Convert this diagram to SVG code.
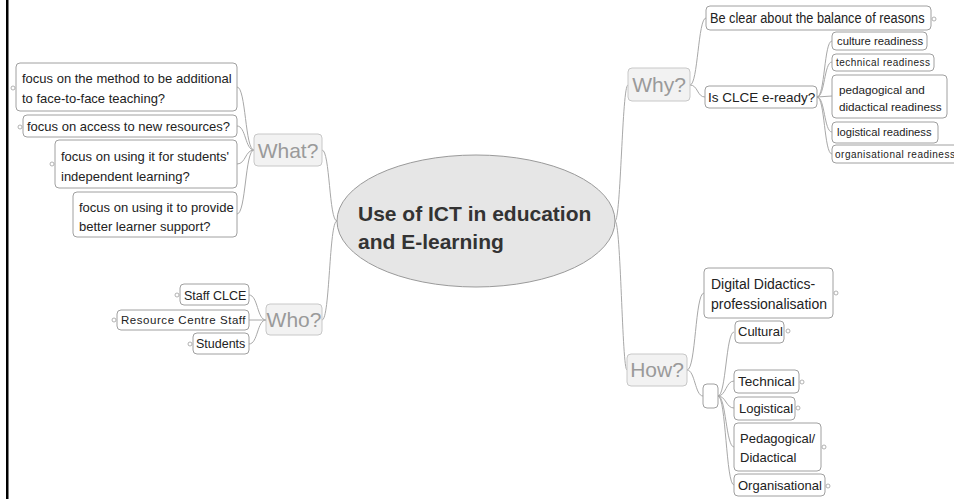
<svg xmlns="http://www.w3.org/2000/svg" width="954" height="499" viewBox="0 0 954 499">
  <style>
    .bg { fill: #ffffff; }
    .edge { fill: none; stroke: #a8a8a8; stroke-width: 1; }
    .topic { fill: #f2f2f2; stroke: #c8c8c8; stroke-width: 1; }
    .topic-text { font-family: "Liberation Sans", Arial, sans-serif; font-size: 21px; fill: #9a9a9a; text-anchor: middle; }
    .box { fill: #ffffff; stroke: #a0a0a0; stroke-width: 1; }
    .t { font-family: "Liberation Sans", Arial, sans-serif; font-size: 13px; fill: #222222; }
    .knob { fill: #ffffff; stroke: #a0a0a0; stroke-width: 0.8; }
    .central { fill: #e6e6e6; stroke: #9a9a9a; stroke-width: 1; }
    .central-text { font-family: "Liberation Sans", Arial, sans-serif; font-size: 21px; font-weight: bold; fill: #333333; }
  </style>

  <rect class="bg" x="0" y="0" width="954" height="499"/>
  <rect x="6" y="0" width="2.5" height="499" fill="#000000"/>

  <!-- connectors -->
  <g id="connectors">
    <!-- central topic to main branches -->
    <path class="edge" d="M337,221 C329,221 330,150 322,150"/>
    <path class="edge" d="M337,221 C329,221 330,320 322,320"/>
    <path class="edge" d="M615,221 C621,221 622,85 628,85"/>
    <path class="edge" d="M615,221 C621,221 622,370 627,370"/>
    <!-- What? -->
    <path class="edge" d="M254,150 C245,150 246,87 237,87"/>
    <path class="edge" d="M254,150 C245,150 246,126 237,126"/>
    <path class="edge" d="M254,150 C245,150 246,164 237,164"/>
    <path class="edge" d="M254,150 C245,150 246,214 237,214"/>
    <!-- Who? -->
    <path class="edge" d="M266,320 C257,320 258,295 249,295"/>
    <path class="edge" d="M266,320 L249,320"/>
    <path class="edge" d="M266,320 C257,320 258,344 249,344"/>
    <!-- Why? -->
    <path class="edge" d="M690,85 C698,85 698,18 706,18"/>
    <path class="edge" d="M690,85 C698,85 697,97 705,97"/>
    <!-- Is CLCE e-ready? -->
    <path class="edge" d="M817,97 C825,97 824,41 832,41"/>
    <path class="edge" d="M817,97 C825,97 824,62 832,62"/>
    <path class="edge" d="M817,97 L832,96"/>
    <path class="edge" d="M817,97 C825,97 824,132 832,132"/>
    <path class="edge" d="M817,97 C825,97 824,154 832,154"/>
    <!-- How? -->
    <path class="edge" d="M687,370 C696,370 695,293 704,293"/>
    <path class="edge" d="M687,370 C695,370 695,396 703,396"/>
    <!-- unnamed sub-topic to its children -->
    <path class="edge" d="M718,396 C726,396 726,332 734,332"/>
    <path class="edge" d="M718,396 C726,396 726,381 734,381"/>
    <path class="edge" d="M718,396 C726,396 726,408 734,408"/>
    <path class="edge" d="M718,396 C726,396 726,447 734,447"/>
    <path class="edge" d="M718,396 C726,396 726,485 734,485"/>
  </g>

  <!-- central topic -->
  <g id="central">
    <ellipse class="central" cx="476" cy="221" rx="139" ry="66"/>
    <text class="central-text" x="358" y="221">Use of ICT in education</text>
    <text class="central-text" x="358" y="249">and E-learning</text>
  </g>

  <!-- main branches -->
  <g id="what">
    <rect class="topic" x="254" y="134" width="68" height="32" rx="4"/>
    <text class="topic-text" x="288" y="158">What?</text>
  </g>
  <g id="who">
    <rect class="topic" x="266" y="304" width="56" height="31" rx="4"/>
    <text class="topic-text" x="294" y="327">Who?</text>
  </g>
  <g id="why">
    <rect class="topic" x="628" y="68" width="62" height="33" rx="4"/>
    <text class="topic-text" x="659" y="92">Why?</text>
  </g>
  <g id="how">
    <rect class="topic" x="627" y="354" width="60" height="32" rx="4"/>
    <text class="topic-text" x="657" y="377">How?</text>
  </g>

  <!-- What? children -->
  <g id="what-method">
    <rect class="box" x="16" y="63" width="221" height="48" rx="4"/>
    <circle class="knob" cx="13" cy="88" r="2"/>
    <text class="t" x="22" y="83">focus on the method to be additional</text>
    <text class="t" x="22" y="103">to face-to-face teaching?</text>
  </g>
  <g id="what-access">
    <rect class="box" x="23" y="115" width="214" height="22" rx="4"/>
    <circle class="knob" cx="20" cy="127" r="2"/>
    <text class="t" x="27" y="131">focus on access to new resources?</text>
  </g>
  <g id="what-independent">
    <rect class="box" x="55" y="140" width="182" height="48" rx="4"/>
    <circle class="knob" cx="52" cy="164" r="2"/>
    <text class="t" x="61" y="161">focus on using it for students'</text>
    <text class="t" x="61" y="181">independent learning?</text>
  </g>
  <g id="what-support">
    <rect class="box" x="73" y="192" width="164" height="45" rx="4"/>
    <text class="t" x="79" y="212">focus on using it to provide</text>
    <text class="t" x="79" y="231">better learner support?</text>
  </g>

  <!-- Who? children -->
  <g id="who-staff">
    <rect class="box" x="180" y="284" width="69" height="21" rx="4"/>
    <circle class="knob" cx="177" cy="295" r="2"/>
    <text class="t" x="184" y="300" style="font-size:12.5px">Staff CLCE</text>
  </g>
  <g id="who-resource">
    <rect class="box" x="117" y="310" width="132" height="20" rx="4"/>
    <circle class="knob" cx="114" cy="320" r="2"/>
    <text class="t" x="121" y="324" style="font-size:11.5px;letter-spacing:0.55px">Resource Centre Staff</text>
  </g>
  <g id="who-students">
    <rect class="box" x="193" y="333" width="56" height="21" rx="4"/>
    <circle class="knob" cx="190" cy="344" r="2"/>
    <text class="t" x="196" y="348" style="font-size:12.5px">Students</text>
  </g>

  <!-- Why? children -->
  <g id="why-balance">
    <rect class="box" x="706" y="6" width="225" height="24" rx="4"/>
    <circle class="knob" cx="934" cy="19" r="2"/>
    <!-- narrow lettering: horizontally squeezed -->
    <text class="t" transform="translate(710,23) scale(0.85,1)" x="0" y="0" style="font-size:15px">Be clear about the balance of reasons</text>
  </g>
  <g id="why-eready">
    <rect class="box" x="705" y="86" width="112" height="22" rx="4"/>
    <text class="t" x="708" y="102" style="font-size:13.5px">Is CLCE e-ready?</text>
  </g>
  <g id="ready-culture">
    <rect class="box" x="832" y="32" width="95" height="18" rx="4"/>
    <text class="t" x="837" y="45" style="font-size:11.3px">culture readiness</text>
  </g>
  <g id="ready-technical">
    <rect class="box" x="832" y="54" width="102" height="17" rx="4"/>
    <text class="t" x="836" y="66" style="font-size:10px;letter-spacing:0.47px">technical readiness</text>
  </g>
  <g id="ready-pedagogical">
    <rect class="box" x="832" y="75" width="115" height="43" rx="4"/>
    <text class="t" x="839" y="94" style="font-size:11.7px">pedagogical and</text>
    <text class="t" x="839" y="111" style="font-size:11.7px">didactical readiness</text>
  </g>
  <g id="ready-logistical">
    <rect class="box" x="832" y="122" width="106" height="21" rx="4"/>
    <text class="t" x="837" y="136" style="font-size:11.2px">logistical readiness</text>
  </g>
  <g id="ready-organisational">
    <rect class="box" x="832" y="145" width="130" height="18" rx="4"/>
    <text class="t" x="835" y="158" style="font-size:10px;letter-spacing:0.5px">organisational readiness</text>
  </g>

  <!-- How? children -->
  <g id="how-digital">
    <rect class="box" x="704" y="268" width="129" height="50" rx="4"/>
    <circle class="knob" cx="836" cy="293" r="2"/>
    <text class="t" x="711" y="289" style="font-size:14px">Digital Didactics-</text>
    <text class="t" x="711" y="309" style="font-size:14px">professionalisation</text>
  </g>
  <g id="how-group">
    <rect class="box" x="703" y="384" width="15" height="24" rx="4"/>
  </g>
  <g id="how-cultural">
    <rect class="box" x="735" y="321" width="49" height="22" rx="4"/>
    <circle class="knob" cx="788" cy="331" r="2"/>
    <text class="t" x="738" y="336">Cultural</text>
  </g>
  <g id="how-technical">
    <rect class="box" x="734" y="370" width="65" height="23" rx="4"/>
    <circle class="knob" cx="802" cy="382" r="2"/>
    <text class="t" x="738" y="386" style="font-size:13.6px">Technical</text>
  </g>
  <g id="how-logistical">
    <rect class="box" x="734" y="397" width="61" height="23" rx="4"/>
    <circle class="knob" cx="798" cy="408" r="2"/>
    <text class="t" x="739" y="413">Logistical</text>
  </g>
  <g id="how-pedagogical">
    <rect class="box" x="734" y="423" width="87" height="48" rx="4"/>
    <circle class="knob" cx="824" cy="447" r="2"/>
    <text class="t" x="740" y="443">Pedagogical/</text>
    <text class="t" x="740" y="462">Didactical</text>
  </g>
  <g id="how-organisational">
    <rect class="box" x="734" y="474" width="91" height="22" rx="4"/>
    <circle class="knob" cx="828" cy="486" r="2"/>
    <text class="t" x="738" y="490">Organisational</text>
  </g>
</svg>
